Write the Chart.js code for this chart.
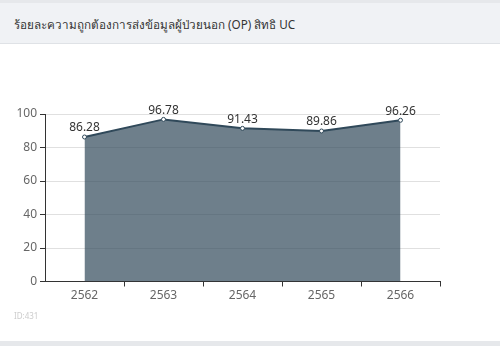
<!DOCTYPE html>
<html>
<head>
<meta charset="utf-8">
<script src="https://cdn.jsdelivr.net/npm/chart.js@4/dist/chart.umd.min.js"></script>
<style>
    html, body { margin: 0; padding: 0; width: 500px; height: 346px; overflow: hidden; background: #fff; }
    body { font-family: 'Noto Sans', 'Open Sans', sans-serif; position: relative; }
    .top-strip { position: absolute; left: 0; top: 0; width: 500px; height: 3px; background: #e6e8eb; }
    .card-head { position: absolute; left: 0; top: 3px; width: 500px; height: 41px; background: #f0f2f5;
        border-bottom: 1px solid #dfe2e6; box-sizing: border-box; }
    .card-head span { position: absolute; left: 14px; top: 13px; font-size: 11.7px; color: #333; }
    .chart-box { position: absolute; left: 0; top: 45px; width: 500px; height: 296px; }
    .chart-id { position: absolute; left: 14px; top: 310px; font-size: 8px; color: #ccc; }
    .bottom-strip { position: absolute; left: 0; top: 341px; width: 500px; height: 5px; background: #e6e8eb; }
</style>
</head>
<body>
<div class="top-strip"></div>
<div class="card-head"><span>ร้อยละความถูกต้องการส่งข้อมูลผู้ป่วยนอก (OP) สิทธิ UC</span></div>
<div class="chart-box"><canvas id="opChart"></canvas></div>
<div class="chart-id">ID:431</div>
<div class="bottom-strip"></div>

<script>
// ปีงบประมาณ และค่าร้อยละ
var years = ['2562', '2563', '2564', '2565', '2566'];
var percentOP = [86.28, 96.78, 91.43, 89.86, 96.26];
var yTicks = [0, 20, 40, 60, 80, 100];

var LINE = '#30495a';
var AXIS = '#333';
var TEXT = '#666';

// เขียนค่าไว้เหนือจุด
var valueLabels = {
    id: 'valueLabels',
    afterDatasetsDraw: function (chart) {
        var ctx = chart.ctx;
        var meta = chart.getDatasetMeta(0);
        ctx.save();
        ctx.font = "12px 'Noto Sans', sans-serif";
        ctx.fillStyle = '#333';
        ctx.textAlign = 'center';
        ctx.textBaseline = 'bottom';
        meta.data.forEach(function (pt, i) {
            ctx.fillText(percentOP[i].toFixed(2), pt.x, pt.y - 3);
        });
        ctx.restore();
    }
};

new Chart(document.getElementById('opChart'), {
    type: 'line',
    data: {
        labels: years,
        datasets: [{
            data: percentOP,
            borderColor: LINE,
            borderWidth: 2,
            backgroundColor: 'rgba(48,73,90,0.7)',
            fill: 'origin',
            tension: 0,
            pointRadius: 2,
            pointBorderWidth: 1,
            pointBackgroundColor: '#fff',
            pointBorderColor: LINE
        }]
    },
    options: {
        responsive: true,
        maintainAspectRatio: false,
        animation: false,
        layout: { padding: { top: 69, right: 60, bottom: 0, left: 0 } },
        plugins: { legend: { display: false }, tooltip: { enabled: false } },
        scales: {
            x: {
                offset: true,
                afterFit: function (s) { s.height = 59.5; },
                grid: {
                    offset: true, drawOnChartArea: false, tickLength: 5,
                    tickColor: function (c) { return (c.index === 0 || c.index === years.length) ? 'rgba(0,0,0,0)' : AXIS; }
                },
                border: { color: AXIS, width: 1 },
                ticks: { color: TEXT, font: { size: 12, family: "'Noto Sans', sans-serif" }, padding: 2 }
            },
            y: {
                min: 0, max: 100,
                afterFit: function (s) { s.width = 45; },
                afterBuildTicks: function (s) { s.ticks = yTicks.map(function (v) { return { value: v }; }); },
                grid: { color: '#e0e0e0', tickColor: AXIS, tickLength: 5 },
                border: { color: AXIS, width: 1 },
                ticks: { color: TEXT, font: { size: 12, family: "'Noto Sans', sans-serif" }, padding: 3 }
            }
        }
    },
    plugins: [valueLabels]
});
</script>
</body>
</html>
